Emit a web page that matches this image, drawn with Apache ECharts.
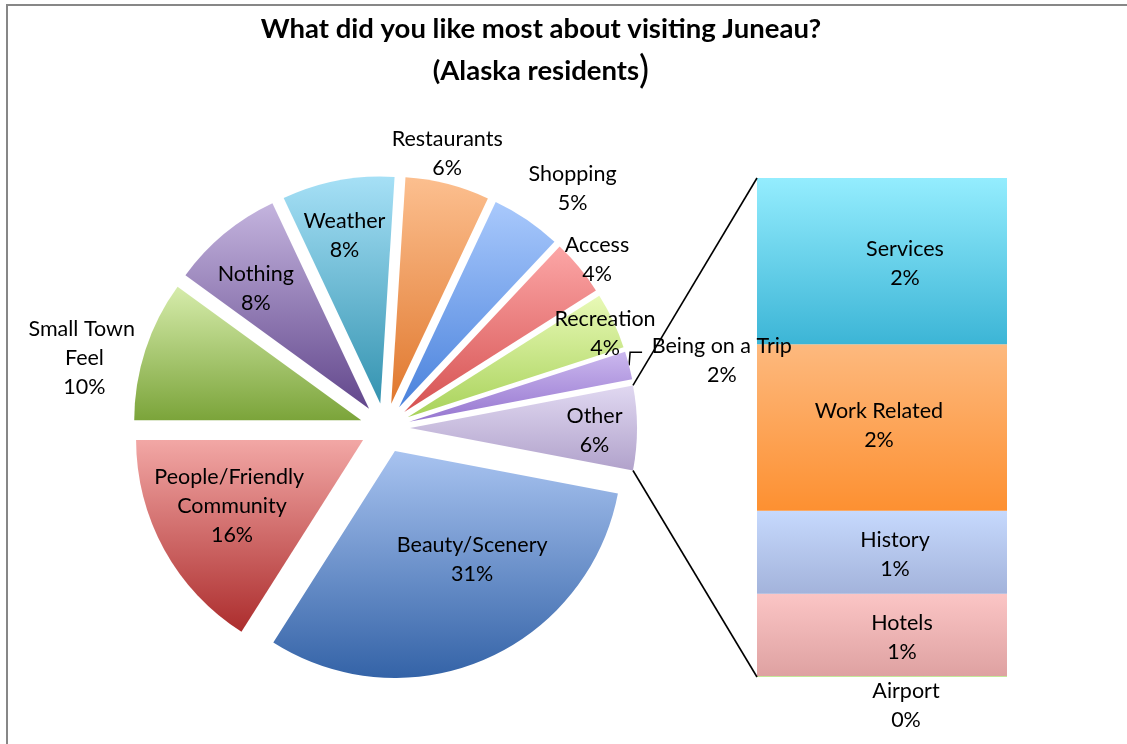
<!DOCTYPE html>
<html>
<head>
<meta charset="utf-8">
<script src="https://cdn.jsdelivr.net/npm/echarts@6/dist/echarts.min.js"></script>
<style>
html, body { margin: 0; padding: 0; background: #fff; }
#chart { width: 1127px; height: 744px; }
</style>
</head>
<body>
<div id="chart"></div>
<script>
// Answers shown as pie slices, clockwise from the "Other" slice (percent of respondents)
const pieNames = ['Other', 'Beauty/Scenery', 'People/Friendly Community', 'Small Town Feel',
  'Nothing', 'Weather', 'Restaurants', 'Shopping', 'Access', 'Recreation', 'Being on a Trip'];
const pieValues = [6, 31, 16, 10, 8, 8, 6, 5, 4, 4, 2];

// Breakdown of "Other", listed top to bottom of the stacked bar
const barNames = ['Services', 'Work Related', 'History', 'Hotels', 'Airport'];
const barValues = [2, 2, 1, 1, 0];

// ---- styling ----
const FONT = 'Lato, "Noto Sans", sans-serif';
const sliceColors = {
  'Other': ['#e0d8f1', '#b1a2cb'],
  'Beauty/Scenery': ['#a8c3f0', '#3463a7'],
  'People/Friendly Community': ['#f2a7a5', '#ac2d2d'],
  'Small Town Feel': ['#d6ecab', '#7ba43a'],
  'Nothing': ['#c4b4de', '#62478c'],
  'Weather': ['#a6e0f6', '#3493b0'],
  'Restaurants': ['#fcbf8f', '#e0782e'],
  'Shopping': ['#a9c9fc', '#4a82dc'],
  'Access': ['#fca6a6', '#d65252'],
  'Recreation': ['#e8f9b6', '#a8d25a'],
  'Being on a Trip': ['#cbb8ee', '#9676d0']
};
const barColors = {
  'Services': ['#94edfe', '#3cb5d6'],
  'Work Related': ['#fdb97e', '#fd9031'],
  'History': ['#c6d9fd', '#a3b3db'],
  'Hotels': ['#fbc5c5', '#dea1a1'],
  'Airport': ['#c4e89a', '#c4e89a']
};
// Fine placement of the pie labels relative to the default inside spot
const labelShift = {
  'Other': [68, 3],
  'Beauty/Scenery': [31, 2],
  'People/Friendly Community': [-29, 10],
  'Small Town Feel': [-166, -26],
  'Nothing': [-39, -30],
  'Weather': [-14, -53],
  'Restaurants': [27, -137],
  'Shopping': [108, -122],
  'Access': [103, -78],
  'Recreation': [92, -34]
};
const barLabelShift = {
  'Services': [23, 2], 'Work Related': [-3, -2], 'History': [13, 2],
  'Hotels': [20, 2], 'Airport': [24, 0]
};
const wrapWidth = { 'People/Friendly Community': 160, 'Small Town Feel': 120 };

function vgrad(c) {
  return new echarts.graphic.LinearGradient(0, 0, 0, 1, [
    { offset: 0, color: c[0] }, { offset: 1, color: c[1] }
  ]);
}

const labelText = { color: '#000', fontFamily: FONT, fontSize: 21.5, lineHeight: 29 };

const pieData = pieNames.map((name, i) => {
  const item = {
    name: name,
    value: pieValues[i],
    selected: true,
    itemStyle: { color: vgrad(sliceColors[name]) }
  };
  if (name === 'Being on a Trip') {
    item.label = { position: 'outside' };
    item.labelLine = { show: true, length: 8, length2: 8, lineStyle: { color: '#000', width: 1.5 } };
  } else if (wrapWidth[name]) {
    item.label = { width: wrapWidth[name], overflow: 'break' };
  }
  return item;
});

const otherTotal = barValues.reduce((a, b) => a + b, 0);

const barSeries = barNames.map((name, i) => ({
  type: 'bar',
  name: name,
  stack: 'other',
  xAxisIndex: 0,
  yAxisIndex: 0,
  barWidth: '100%',
  barMinHeight: name === 'Airport' ? 1 : 0,
  z: name === 'Airport' ? 3 : 2,
  data: [barValues[i]],
  itemStyle: { color: vgrad(barColors[name]) },
  label: Object.assign({
    show: true,
    position: name === 'Airport' ? 'bottom' : 'inside',
    distance: 0,
    offset: barLabelShift[name],
    formatter: p => p.seriesName + '\n' + Math.round(p.value) + '%'
  }, labelText)
})).reverse();

const option = {
  animation: false,
  backgroundColor: '#fff',
  title: {
    left: 536,
    top: 3,
    textAlign: 'center',
    text: '{a|What did you like most about visiting Juneau?}\n{a|(Alaska residents}{b|)}',
    textStyle: {
      rich: {
        a: { fontFamily: FONT, fontWeight: 'bold', fontSize: 27.5, lineHeight: 42, color: '#000' },
        b: { fontFamily: FONT, fontWeight: 'normal', fontSize: 38, lineHeight: 42, color: '#000' }
      }
    }
  },
  grid: { left: 757, top: 178, width: 250, height: 499 },
  xAxis: { type: 'category', data: ['Other'], show: false },
  yAxis: { type: 'value', min: 0, max: otherTotal, show: false },
  series: [
    {
      type: 'pie',
      center: [385, 428],
      radius: 227,
      startAngle: 10.8,
      clockwise: true,
      selectedMode: 'multiple',
      selectedOffset: 25,
      avoidLabelOverlap: false,
      emphasis: { disabled: true },
      itemStyle: { borderWidth: 0 },
      label: Object.assign({
        show: true,
        position: 'inside',
        formatter: '{b}\n{c}%'
      }, labelText),
      labelLine: { show: false },
      labelLayout: function (p) {
        const name = pieNames[p.dataIndex];
        if (name === 'Being on a Trip') {
          const p0 = p.labelLinePoints[0];
          const p1 = [p0[0] + 1, p0[1] - 13];
          const p2 = [p1[0] + 12, p1[1]];
          return { align: 'center', dx: 72, dy: -3, labelLinePoints: [p0, p1, p2] };
        }
        const s = labelShift[name];
        return s ? { dx: s[0], dy: s[1] } : {};
      },
      data: pieData
    }
  ].concat(barSeries)
};

const chart = echarts.init(document.getElementById('chart'), null, { renderer: 'canvas' });
chart.setOption(option);

// Frame and the two connector lines from the "Other" slice to the bar
const pieSeries = chart.getModel().getSeriesByIndex(0);
const lay = pieSeries.getData().getItemLayout(0);
const off = pieSeries.get('selectedOffset');
const mid = (lay.startAngle + lay.endAngle) / 2;
const ox = lay.cx + off * Math.cos(mid);
const oy = lay.cy + off * Math.sin(mid);
const a0 = Math.min(lay.startAngle, lay.endAngle);
const a1 = Math.max(lay.startAngle, lay.endAngle);
const sliceTop = [ox + lay.r * Math.cos(a0), oy + lay.r * Math.sin(a0)];
const sliceBot = [ox + lay.r * Math.cos(a1), oy + lay.r * Math.sin(a1)];
const gridRect = chart.getModel().getComponent('grid', 0).coordinateSystem.getRect();
const barTop = [gridRect.x, chart.convertToPixel({ yAxisIndex: 0 }, otherTotal)];
const barBot = [gridRect.x, chart.convertToPixel({ yAxisIndex: 0 }, 0)];

chart.setOption({
  graphic: [
    {
      type: 'rect', silent: true, z: 100,
      shape: { x: 7, y: 5, width: 1200, height: 800 },
      style: { fill: 'none', stroke: '#878787', lineWidth: 2 }
    },
    {
      type: 'line', silent: true, z: 100,
      shape: { x1: sliceTop[0], y1: sliceTop[1], x2: barTop[0], y2: barTop[1] },
      style: { stroke: '#000', lineWidth: 1.6 }
    },
    {
      type: 'line', silent: true, z: 100,
      shape: { x1: sliceBot[0], y1: sliceBot[1], x2: barBot[0], y2: barBot[1] },
      style: { stroke: '#000', lineWidth: 1.6 }
    }
  ]
});
</script>
</body>
</html>
